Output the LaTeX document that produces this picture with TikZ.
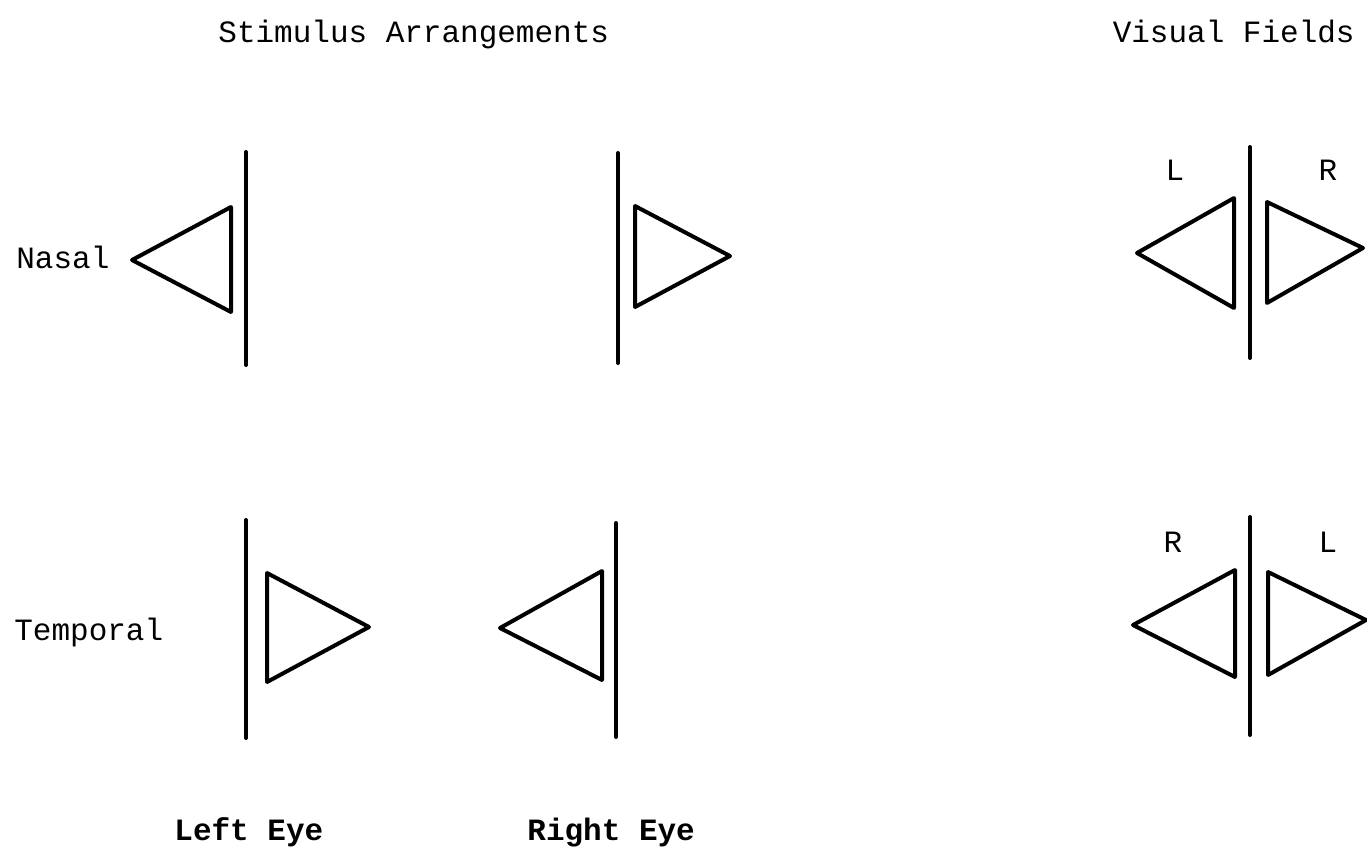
\documentclass[tikz,border=0pt]{standalone}
\usepackage{fontspec}
\setmainfont{Liberation Mono}
\usetikzlibrary{positioning}
\tikzset{
  bar/.style={line width=2pt, line cap=round},
  flag/.style={line width=2pt, line join=round},
  label/.style={font=\fontsize{15.5}{18}\selectfont, inner sep=0pt},
  eyelabel/.style={label, font=\fontsize{15.5}{18}\selectfont\bfseries}
}

\begin{document}
\begin{tikzpicture}[x=0.5pt, y=-0.5pt]
  \useasboundingbox (0,0) rectangle (1367,847);

  % headings
  \node[label, anchor=base west] (stim) at (218,42) {Stimulus Arrangements};
  \node[label, anchor=base east] (fields) at (1355,42) {Visual Fields};

  % row labels
  \node[label, anchor=base west] (nasal) at (16,268) {Nasal};
  \node[label, anchor=base west] (temporal) at (14,640) {Temporal};

  % nasal row
  \draw[bar] (246,152) -- (246,365);
  \draw[flag] (231,207) -- (231,312) -- (132,260) -- cycle;
  \draw[bar] (618,153) -- (618,363);
  \draw[flag] (635,206) -- (635,307) -- (730,256) -- cycle;

  % temporal row
  \draw[bar] (246,520) -- (246,738);
  \draw[flag] (267,573) -- (267,682) -- (369,627) -- cycle;
  \draw[bar] (616,523) -- (616,737);
  \draw[flag] (602,571) -- (602,680) -- (500,628) -- cycle;

  % visual fields, top
  \draw[bar] (1250,147) -- (1250,358);
  \draw[flag] (1234,198) -- (1234,308) -- (1137,253) -- cycle;
  \draw[flag] (1267,202) -- (1267,303) -- (1363,248) -- cycle;
  \node[label] (vfl1) at (1175,170) {L};
  \node[label] (vfr1) at (1328,170) {R};

  % visual fields, bottom
  \draw[bar] (1250,517) -- (1250,735);
  \draw[flag] (1235,570) -- (1235,677) -- (1133,625) -- cycle;
  \draw[flag] (1268,572) -- (1268,675) -- (1366,620) -- cycle;
  \node[label] (vfr2) at (1173,542) {R};
  \node[label] (vfl2) at (1328,542) {L};

  % eye labels
  \node[eyelabel, anchor=base west] (lefteye) at (174,840) {Left Eye};
  \node[eyelabel, anchor=base west] (righteye) at (527,840) {Right Eye};
\end{tikzpicture}
\end{document}
